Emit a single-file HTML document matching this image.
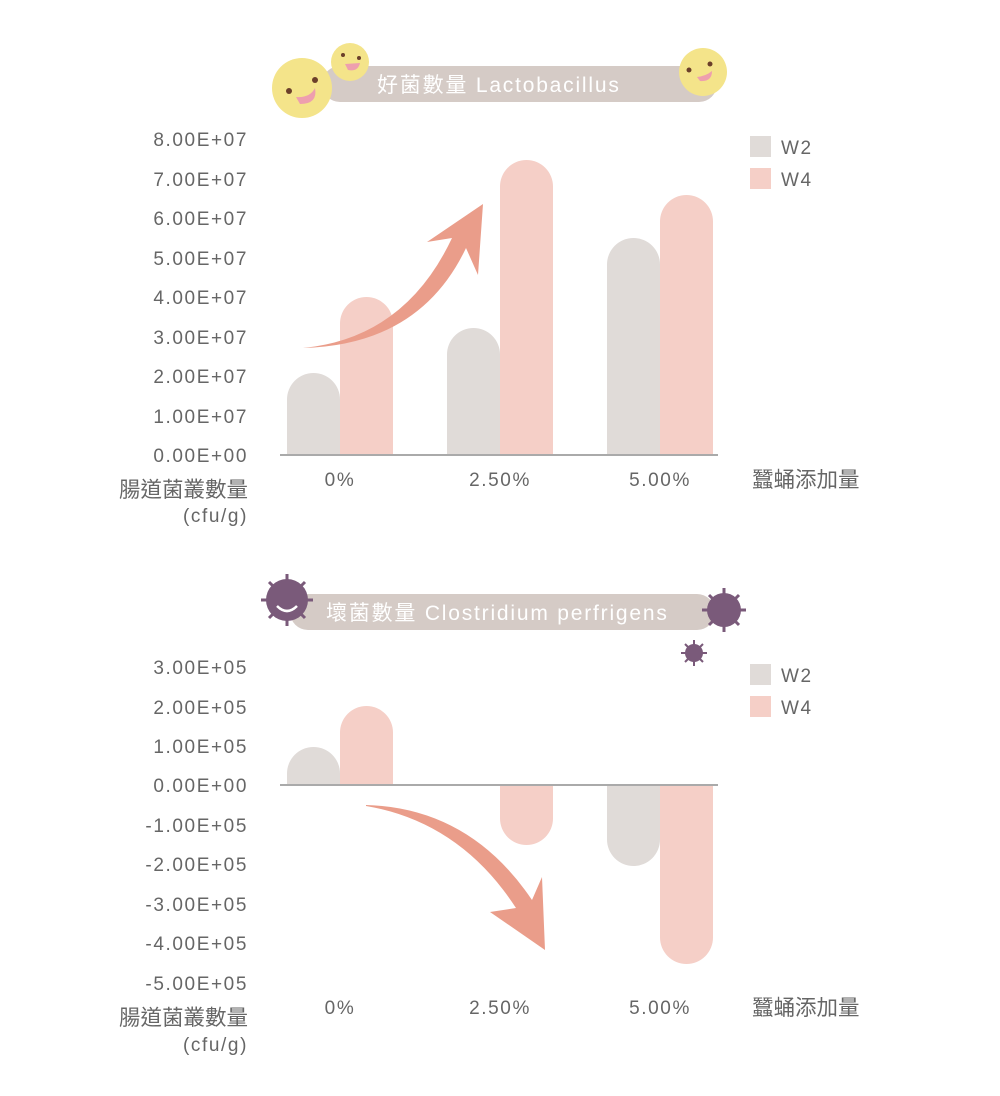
<!DOCTYPE html>
<html><head><meta charset="utf-8"><style>
body{margin:0;background:#fff}
svg{display:block}
text{font-family:"Liberation Sans","Noto Sans CJK TC",sans-serif;fill:#666;font-size:19px;letter-spacing:1.6px}
.t{fill:#fff;font-size:21px;letter-spacing:1.8px}
.c{font-size:21.5px;letter-spacing:0}
</style></head><body>
<svg width="1000" height="1096" viewBox="0 0 1000 1096">
<!-- Chart 1 title -->
<rect x="322" y="66" width="395" height="36" rx="18" fill="#d5cbc6"/>
<text class="t" x="377" y="92">好菌數量 Lactobacillus</text>
<g fill="#f4e48a">
<circle cx="302" cy="88" r="30"/><circle cx="350" cy="62" r="19"/><circle cx="703" cy="72" r="24"/></g>
<g fill="#6b3f2a"><circle cx="289" cy="91" r="3"/><circle cx="315" cy="80" r="3"/><circle cx="343" cy="55" r="2"/><circle cx="359" cy="58" r="2"/><circle cx="689" cy="70" r="2.5"/><circle cx="710" cy="64" r="2.5"/></g>
<g fill="#ee9fae"><path d="M296,97 Q310,98 315,88 Q318,104 300,104Z"/><path d="M345,64 L360,63 Q358,72 348,70Z"/><path d="M697,77 Q706,76 712,71 Q712,82 700,81Z"/></g>
<g text-anchor="end">
<text x="248" y="146">8.00E+07</text><text x="248" y="186">7.00E+07</text><text x="248" y="225">6.00E+07</text><text x="248" y="265">5.00E+07</text><text x="248" y="304">4.00E+07</text><text x="248" y="344">3.00E+07</text><text x="248" y="383">2.00E+07</text><text x="248" y="423">1.00E+07</text><text x="248" y="462">0.00E+00</text>
<text class="c" x="248" y="497">腸道菌叢數量</text><text x="248" y="522">(cfu/g)</text>
</g>
<g fill="#e0dbd8">
<path d="M287,455 V399.5 A26.5,26.5 0 0 1 340,399.5 V455Z"/>
<path d="M447,455 V354.5 A26.5,26.5 0 0 1 500,354.5 V455Z"/>
<path d="M607,455 V264.5 A26.5,26.5 0 0 1 660,264.5 V455Z"/>
</g>
<g fill="#f5cfc7">
<path d="M340,455 V323.5 A26.5,26.5 0 0 1 393,323.5 V455Z"/>
<path d="M500,455 V186.5 A26.5,26.5 0 0 1 553,186.5 V455Z"/>
<path d="M660,455 V221.5 A26.5,26.5 0 0 1 713,221.5 V455Z"/>
</g>
<rect x="280" y="454" width="438" height="2" fill="#aaa"/>
<path d="M303,348 Q405,338 452,238 L427,242 L483,204 L478,275 L466,248 Q420,345 303,348Z" fill="#ea9d8a"/>
<g text-anchor="middle"><text x="340" y="486">0%</text><text x="500" y="486">2.50%</text><text x="660" y="486">5.00%</text></g>
<text class="c" x="752" y="487">蠶蛹添加量</text>
<rect x="750" y="136" width="21" height="21" fill="#e0dbd8"/><rect x="750" y="168" width="21" height="21" fill="#f5cfc7"/>
<text x="781" y="154">W2</text><text x="781" y="186">W4</text>

<!-- Chart 2 -->
<rect x="290" y="594" width="425" height="36" rx="18" fill="#d5cbc6"/>
<text class="t" x="326" y="620">壞菌數量 Clostridium perfrigens</text>
<g fill="#7a5a7a" stroke="#7a5a7a">
<circle cx="287" cy="600" r="21" stroke="none"/>
<g stroke-width="3"><line x1="287" y1="574" x2="287" y2="626"/><line x1="261" y1="600" x2="313" y2="600"/><line x1="269" y1="582" x2="305" y2="618"/><line x1="305" y1="582" x2="269" y2="618"/></g>
<circle cx="724" cy="610" r="17" stroke="none"/>
<g stroke-width="3"><line x1="724" y1="588" x2="724" y2="632"/><line x1="702" y1="610" x2="746" y2="610"/><line x1="709" y1="595" x2="739" y2="625"/><line x1="739" y1="595" x2="709" y2="625"/></g>
<circle cx="694" cy="653" r="9" stroke="none"/>
<g stroke-width="2"><line x1="694" y1="640" x2="694" y2="666"/><line x1="681" y1="653" x2="707" y2="653"/><line x1="685" y1="644" x2="703" y2="662"/><line x1="703" y1="644" x2="685" y2="662"/></g>
</g>
<path d="M277,606 Q287,616 297,606" stroke="#fff" stroke-width="2.5" fill="none"/>
<g text-anchor="end">
<text x="248" y="674">3.00E+05</text><text x="248" y="714">2.00E+05</text><text x="248" y="753">1.00E+05</text><text x="248" y="792">0.00E+00</text><text x="248" y="832">-1.00E+05</text><text x="248" y="871">-2.00E+05</text><text x="248" y="911">-3.00E+05</text><text x="248" y="950">-4.00E+05</text><text x="248" y="990">-5.00E+05</text>
<text class="c" x="248" y="1025">腸道菌叢數量</text><text x="248" y="1051">(cfu/g)</text>
</g>
<g fill="#e0dbd8">
<path d="M287,785 V773.5 A26.5,26.5 0 0 1 340,773.5 V785Z"/>
<path d="M607,785 V839.5 A26.5,26.5 0 0 0 660,839.5 V785Z"/>
</g>
<g fill="#f5cfc7">
<path d="M340,785 V732.5 A26.5,26.5 0 0 1 393,732.5 V785Z"/>
<path d="M500,785 V818.5 A26.5,26.5 0 0 0 553,818.5 V785Z"/>
<path d="M660,785 V937.5 A26.5,26.5 0 0 0 713,937.5 V785Z"/>
</g>
<rect x="280" y="784" width="438" height="2" fill="#aaa"/>
<path d="M366,805 Q470,808 532,900 L542,877 L545,950 L490,912 L516,908 Q460,822 366,806Z" fill="#ea9d8a"/>
<g text-anchor="middle"><text x="340" y="1014">0%</text><text x="500" y="1014">2.50%</text><text x="660" y="1014">5.00%</text></g>
<text class="c" x="752" y="1015">蠶蛹添加量</text>
<rect x="750" y="664" width="21" height="21" fill="#e0dbd8"/><rect x="750" y="696" width="21" height="21" fill="#f5cfc7"/>
<text x="781" y="682">W2</text><text x="781" y="714">W4</text>
</svg>
</body></html>
